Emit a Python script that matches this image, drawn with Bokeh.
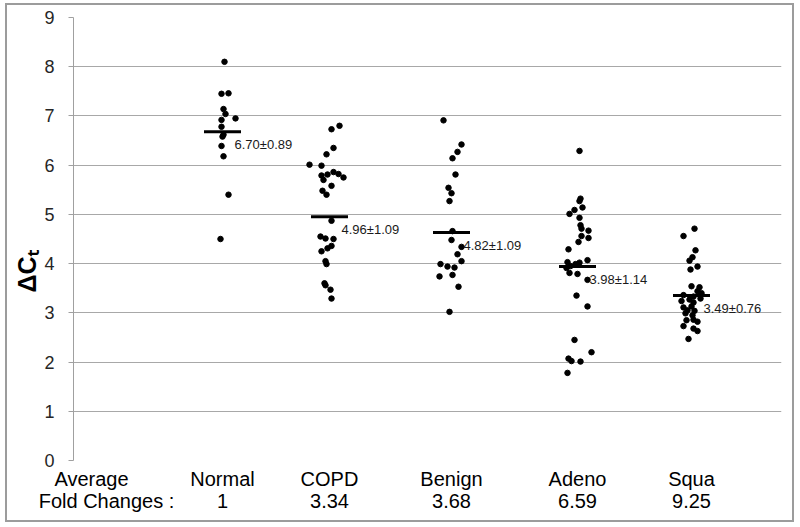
from bokeh.plotting import figure
from bokeh.models import Range1d, FixedTicker, LinearAxis, Title
from bokeh.core.properties import value
from bokeh.embed import file_html
from bokeh.resources import INLINE

# ---------------- data ----------------
groups = ["Normal", "COPD", "Benign", "Adeno", "Squa"]
fold_changes = ["1", "3.34", "3.68", "6.59", "9.25"]
stat_labels = ["6.70\u00b10.89", "4.96\u00b11.09", "4.82\u00b11.09", "3.98\u00b11.14", "3.49\u00b10.76"]
bar_values = [6.68, 4.95, 4.63, 3.94, 3.35]
y_ticks = [0, 1, 2, 3, 4, 5, 6, 7, 8, 9]

normal_y = [8.10, 7.45, 7.46, 7.14, 7.04, 6.95, 6.92, 6.78, 6.62, 6.58, 6.39, 6.18, 5.40, 4.50]
normal_dx = [2, -1, 6, 1, 3, 13, -1, -1, 1, 0, -1, 1, 6, -2]

copd_y = [6.73, 6.80, 6.35, 6.22, 6.01, 5.99, 5.79, 5.70, 5.81, 5.86, 5.82, 5.75, 5.58, 5.48,
          5.40, 4.87, 4.55, 4.51, 4.50, 4.36, 4.31, 4.25, 4.05, 3.99, 3.60, 3.56, 3.47, 3.29]
copd_dx = [2, 10, 4, -3, -20, -8, -8, -6, -2, 4, 9, 14, 2, -7,
           -3, 2, -9, -4, 4, 2, -2, -8, -4, -3, -5, -4, 1, 2]

benign_y = [6.91, 6.42, 6.27, 6.14, 5.81, 5.54, 5.43, 5.27, 4.66, 4.48,
            4.34, 4.19, 4.05, 3.99, 3.94, 3.92, 3.74, 3.77, 3.53, 3.02]
benign_dx = [-8, 10, 6, 1, 4, -3, 0, -2, 1, 0, 10, 6, 10, -11, -4, 3, -12, 1, 7, -2]

adeno_y = [6.29, 5.32, 5.27, 5.14, 5.09, 5.01, 4.93, 4.78, 4.71, 4.67, 4.52, 4.56, 4.44, 4.29,
           4.03, 4.07, 4.02, 3.99, 3.95, 3.91, 3.81, 3.79, 3.67, 3.35, 3.13, 2.45, 2.20, 2.07,
           2.02, 2.01, 1.78]
adeno_dx = [2, 3, 2, 5, -3, -8, 2, 3, 4, 11, 11, 4, 1, -9,
            -10, 10, 2, -2, -7, -11, -8, 0, 10, -1, 10, -3, 14, -9,
            -6, 3, -10]

squa_y = [4.71, 4.56, 4.27, 4.13, 4.06, 3.94, 3.88, 3.54, 3.52, 3.44, 3.40, 3.36, 3.33, 3.29,
          3.27, 3.24, 3.21, 3.11, 3.13, 3.05, 3.04, 2.99, 2.95, 2.85, 2.86, 2.82, 2.73, 2.68,
          2.63, 2.47]
squa_dx = [3, -8, 4, 1, -2, 6, -1, 0, 8, 6, 10, -8, 2, 9,
           -2, -10, 2, -8, 0, -4, 3, -6, 1, -5, 2, 6, -8, 2,
           6, -3]

# ---------------- layout ----------------
centers = [1.49, 2.56, 3.78, 5.04, 6.18]   # group positions on the x axis
avg_pos = 0.18
fold_pos = 0.33
FONT = "Liberation Sans"

all_y = [normal_y, copd_y, benign_y, adeno_y, squa_y]
all_dx = [normal_dx, copd_dx, benign_dx, adeno_dx, squa_dx]
xs, ys = [], []
for c, yv, dv in zip(centers, all_y, all_dx):
    xs += [c + d / 100.0 for d in dv]
    ys += yv

p = figure(frame_width=708, frame_height=443,
           min_border_left=66, min_border_right=11, min_border_top=12, min_border_bottom=60,
           x_range=Range1d(0, 7.08), y_range=Range1d(0, 9),
           x_axis_type=None, output_backend="svg", toolbar_location=None)
p.outline_line_color = None
p.background_fill_color = "white"
p.border_fill_color = "white"
p.styles = {"border": "2px solid #9c9c9c", "margin": "3px 0px 0px 5px"}

# y axis
yax = p.yaxis[0]
yax.ticker = FixedTicker(ticks=y_ticks)
yax.major_tick_out = 5
yax.major_tick_in = 0
yax.minor_tick_line_color = None
yax.axis_line_color = "#a0a0a0"
yax.major_tick_line_color = "#a0a0a0"
yax.major_label_text_font = FONT
yax.major_label_text_font_size = "18px"
yax.major_label_text_color = "#262626"
yax.major_label_standoff = 14

p.ygrid.ticker = FixedTicker(ticks=y_ticks)
p.ygrid.grid_line_color = "#a8a8a8"
p.ygrid.grid_line_width = 1

# y axis title, a little below the middle as in the original
p.add_layout(Title(text="\u0394C\u209c", align="left", offset=168, standoff=2,
                   text_font=FONT, text_font_style="bold", text_font_size="25px",
                   text_color="black"), "left")

# x axes (two rows of labels)
ax1 = LinearAxis(ticker=FixedTicker(ticks=[avg_pos] + centers),
                 major_label_overrides={**{avg_pos: "Average"}, **dict(zip(centers, groups))})
ax2 = LinearAxis(ticker=FixedTicker(ticks=[fold_pos] + centers),
                 major_label_overrides={**{fold_pos: "Fold Changes :"}, **dict(zip(centers, fold_changes))})
for ax, so in ((ax1, 1), (ax2, -9)):
    ax.axis_line_color = None
    ax.major_tick_line_color = None
    ax.minor_tick_line_color = None
    ax.major_label_text_font = FONT
    ax.major_label_text_font_size = "20px"
    ax.major_label_text_color = "black"
    ax.major_label_standoff = so
    p.add_layout(ax, "below")

# points
p.scatter(xs, ys, size=5.5, color="black")

# median bars
p.rect(x=centers, y=bar_values, width=0.37, height=3, height_units="screen",
       fill_color="black", line_color=None)

# mean±sd labels
p.text(x=centers, y=bar_values, text=stat_labels, x_offset=12, y_offset=13,
       text_baseline="middle", text_align="left", text_font=value(FONT),
       text_font_size="13px", text_color="#1a1a1a")

open("out.html", "w").write(file_html(p, INLINE))
